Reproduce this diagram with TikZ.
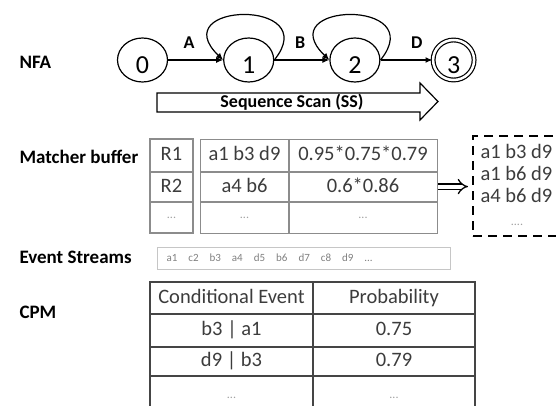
\documentclass[tikz,border=0pt]{standalone}
\usepackage{fontspec}
\setmainfont{Carlito}
\usetikzlibrary{arrows.meta,positioning,shapes.geometric}
\definecolor{celltext}{HTML}{3C3C3C}
\definecolor{gridgray}{HTML}{8C8C8C}
\definecolor{faintgray}{HTML}{A0A0A0}
\definecolor{darkline}{HTML}{454545}
\tikzset{
  rowlabel/.style={anchor=west,font=\fontsize{19}{22}\selectfont\bfseries},
  state/.style={ellipse,draw,line width=1.2pt,minimum width=50pt,minimum height=44pt,inner sep=0pt,
    font=\fontsize{26}{30}\selectfont,text height=28pt,text depth=0pt},
  accept/.style={state,double,double distance=2.5pt,minimum width=41pt,minimum height=40pt},
  trans/.style={line width=1.2pt,-{Latex[length=7pt,width=6pt]}},
  edgelbl/.style={above=8pt,font=\fontsize{18}{20}\selectfont\bfseries},
  celltxt/.style={text=celltext,font=\fontsize{20.5}{23}\selectfont,text height=14pt,text depth=4pt},
  dots/.style={text=faintgray,font=\fontsize{12}{12}\selectfont},
  gridline/.style={gridgray,line width=1.1pt},
  cpmline/.style={darkline,line width=1.1pt},
  resultbox/.style={draw,line width=2pt,dash pattern=on 9pt off 6pt,anchor=north west,
    minimum width=110pt,minimum height=100pt},
  implies/.style={double,double distance=4pt,line width=1.3pt,-{Implies},shorten >=4pt}
}

\begin{document}
\begin{tikzpicture}[x=1pt,y=-1pt]
\useasboundingbox (0,0) rectangle (556,406);
\clip (0,0) rectangle (556,406);

% row captions
\node[rowlabel] (lblnfa) at (16,62) {NFA};
\node[rowlabel] (lblbuf) at (16,157) {Matcher buffer};
\node[rowlabel] (lblstream) at (16,257) {Event Streams};
\node[rowlabel] (lblcpm) at (16,312) {CPM};

% automaton
\node[state] (s0) at (142.5,60) {0};
\node[state,right=55pt of s0] (s1) {1};
\node[state,right=55pt of s1] (s2) {2};
\node[accept,right=52pt of s2] (s3) {3};
\draw[trans] (s0) -- (s1) node[edgelbl,pos=0.38] {A};
\draw[trans] (s1) -- (s2) node[edgelbl,pos=0.47] {B};
\draw[trans] (s2) -- (s3) node[edgelbl,pos=0.7] {D};
\draw[trans] (s1.east) .. controls +(50,-62) and +(-60,-58) .. (s1.west);
\draw[trans] (s2.east) .. controls +(50,-62) and +(-60,-58) .. (s2.west);

% scan direction
\draw[line width=1.2pt] (157,93) -- (420,93) -- (420,83) -- (438,101.5) -- (420,120)
  -- (420,112) -- (157,112) -- cycle;
\node[font=\fontsize{18}{20}\selectfont\bfseries] (scan) at (292,102.5) {Sequence Scan (SS)};

% matcher buffer
\draw[gridline] (150,139) rectangle (193,233);
\draw[gridline] (150,172) -- (193,172) (150,202) -- (193,202);
\node[draw=gridgray,line width=1.1pt,anchor=north west,minimum width=237pt,minimum height=94pt,
  inner sep=0pt] (buffer) at (200,139) {};
\draw[gridline] (200,172) -- (437,172) (200,202) -- (437,202) (289,139) -- (289,233);
\node[celltxt] (r1) at (171.5,155.5) {R1};
\node[celltxt] (r2) at (171.5,187) {R2};
\node[dots] (r3) at (171.5,218) {...};
\node[celltxt] (seq1) at (244.5,155.5) {a1 b3 d9};
\node[celltxt] (seq2) at (244.5,187) {a4 b6};
\node[dots] (seq3) at (244.5,218) {...};
\node[celltxt] (prob1) at (363,155.5) {0.95*0.75*0.79};
\node[celltxt] (prob2) at (363,187) {0.6*0.86};
\node[dots] (prob3) at (363,218) {...};

% output matches
\node[resultbox] (results) at (472,135) {};
\draw[implies] (buffer.east) -- (results.west |- buffer.east);
\node[celltxt,anchor=west] (out1) at (477,153) {a1 b3 d9};
\node[celltxt,anchor=west] (out2) at (477,175) {a1 b6 d9};
\node[celltxt,anchor=west] (out3) at (477,197) {a4 b6 d9};
\node[dots] (out4) at (517,225) {....};

% input stream
\node[draw=gray!45,line width=1pt,anchor=north west,minimum width=293pt,minimum height=22pt,
  inner sep=0pt] (stream) at (157,247) {};
\node[anchor=west,text=gray,font=\fontsize{11}{12}\selectfont] (events) at (163,258)
  {a1\quad c2\quad b3\quad a4\quad d5\quad b6\quad d7\quad c8\quad d9\quad ...};

% conditional probability table
\draw[cpmline] (150,430) -- (150,282) -- (475,282) -- (475,430);
\draw[cpmline] (150,314) -- (475,314) (150,347) -- (475,347) (150,376) -- (475,376)
  (313,282) -- (313,430);
\node[celltxt] (hdcond) at (231.5,298) {Conditional Event};
\node[celltxt] (hdprob) at (394,298) {Probability};
\node[celltxt] (cond1) at (231.5,330.5) {b3 | a1};
\node[celltxt] (cp1) at (394,330.5) {0.75};
\node[celltxt] (cond2) at (231.5,361.5) {d9 | b3};
\node[celltxt] (cp2) at (394,361.5) {0.79};
\node[dots] (cond3) at (231.5,398) {...};
\node[dots] (cp3) at (394,398) {...};
\end{tikzpicture}
\end{document}
